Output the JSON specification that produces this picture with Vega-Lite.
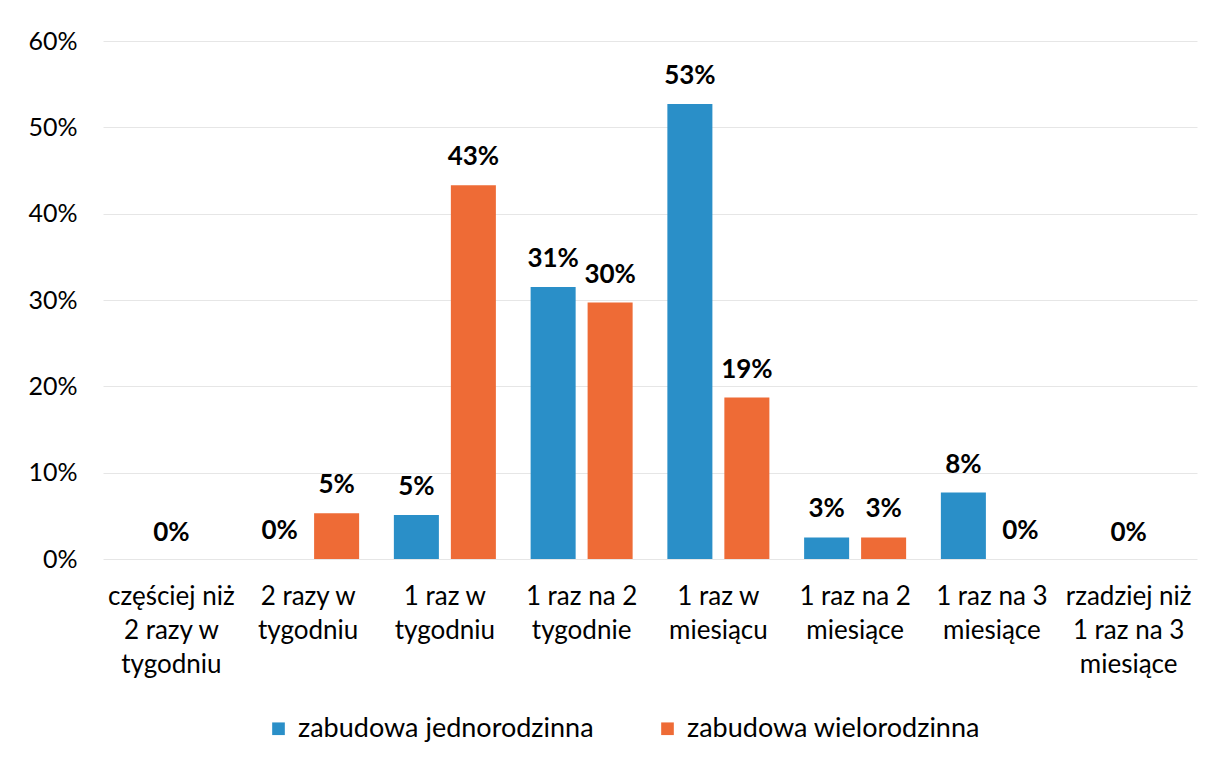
{
  "$schema": "https://vega.github.io/schema/vega-lite/v6.json",
  "width": 1094,
  "height": 518,
  "autosize": {"type": "none"},
  "padding": {"left": 103, "top": 41, "right": 11, "bottom": 201},
  "background": "white",
  "config": {
    "font": "Lato",
    "view": {"stroke": null},
    "axis": {"labelFont": "Lato", "labelColor": "#000000"}
  },
  "datasets": {
    "slupki": [
      {"kategoria": "częściej niż|2 razy w|tygodniu", "zabudowa": "zabudowa jednorodzinna", "udzial": 0.0, "etykieta": null},
      {"kategoria": "częściej niż|2 razy w|tygodniu", "zabudowa": "zabudowa wielorodzinna", "udzial": 0.0, "etykieta": null},
      {"kategoria": "2 razy w|tygodniu", "zabudowa": "zabudowa jednorodzinna", "udzial": 0.0, "etykieta": "0%"},
      {"kategoria": "2 razy w|tygodniu", "zabudowa": "zabudowa wielorodzinna", "udzial": 0.053, "etykieta": "5%"},
      {"kategoria": "1 raz w|tygodniu", "zabudowa": "zabudowa jednorodzinna", "udzial": 0.051, "etykieta": "5%"},
      {"kategoria": "1 raz w|tygodniu", "zabudowa": "zabudowa wielorodzinna", "udzial": 0.433, "etykieta": "43%"},
      {"kategoria": "1 raz na 2|tygodnie", "zabudowa": "zabudowa jednorodzinna", "udzial": 0.315, "etykieta": "31%"},
      {"kategoria": "1 raz na 2|tygodnie", "zabudowa": "zabudowa wielorodzinna", "udzial": 0.297, "etykieta": "30%"},
      {"kategoria": "1 raz w|miesiącu", "zabudowa": "zabudowa jednorodzinna", "udzial": 0.527, "etykieta": "53%"},
      {"kategoria": "1 raz w|miesiącu", "zabudowa": "zabudowa wielorodzinna", "udzial": 0.187, "etykieta": "19%"},
      {"kategoria": "1 raz na 2|miesiące", "zabudowa": "zabudowa jednorodzinna", "udzial": 0.025, "etykieta": "3%"},
      {"kategoria": "1 raz na 2|miesiące", "zabudowa": "zabudowa wielorodzinna", "udzial": 0.025, "etykieta": "3%"},
      {"kategoria": "1 raz na 3|miesiące", "zabudowa": "zabudowa jednorodzinna", "udzial": 0.077, "etykieta": "8%"},
      {"kategoria": "1 raz na 3|miesiące", "zabudowa": "zabudowa wielorodzinna", "udzial": 0.0, "etykieta": "0%"},
      {"kategoria": "rzadziej niż|1 raz na 3|miesiące", "zabudowa": "zabudowa jednorodzinna", "udzial": 0.0, "etykieta": null},
      {"kategoria": "rzadziej niż|1 raz na 3|miesiące", "zabudowa": "zabudowa wielorodzinna", "udzial": 0.0, "etykieta": null}
    ],
    "srodkowe": [
      {"kategoria": "częściej niż|2 razy w|tygodniu", "udzial": 0.0, "etykieta": "0%"},
      {"kategoria": "rzadziej niż|1 raz na 3|miesiące", "udzial": 0.0, "etykieta": "0%"}
    ]
  },
  "encoding": {
    "x": {
      "field": "kategoria", "type": "nominal", "sort": null, "title": null,
      "scale": {"paddingInner": 0.254, "paddingOuter": 0.127},
      "axis": {
        "labelExpr": "split(datum.label, '|')",
        "labelAngle": 0, "labelFontSize": 26, "labelLineHeight": 34,
        "labelBaseline": "top", "labelPadding": 24, "ticks": false, "domain": false,
        "labelLimit": 200
      }
    },
    "y": {
      "field": "udzial", "type": "quantitative", "title": null,
      "scale": {"domain": [0, 0.6], "nice": false},
      "axis": {
        "format": ".0%", "values": [0, 0.1, 0.2, 0.3, 0.4, 0.5, 0.6],
        "labelFontSize": 25, "labelPadding": 26, "ticks": false, "domain": false,
        "gridColor": "#e6e6e6", "gridWidth": 1
      }
    }
  },
  "layer": [
    {
      "data": {"name": "slupki"},
      "mark": {"type": "bar"},
      "encoding": {
        "xOffset": {"field": "zabudowa", "type": "nominal", "scale": {"paddingInner": 0.21, "paddingOuter": 0}},
        "color": {
          "field": "zabudowa", "type": "nominal", "title": null,
          "scale": {"domain": ["zabudowa jednorodzinna", "zabudowa wielorodzinna"], "range": ["#2A8FC8", "#EE6B36"]},
          "legend": {
            "orient": "none", "legendX": 162, "legendY": 674, "direction": "horizontal",
            "symbolType": "square", "symbolSize": 160, "symbolStrokeWidth": 0,
            "labelFontSize": 27, "labelColor": "#000000", "labelOffset": 6, "columnPadding": 60,
            "labelLimit": 400
          }
        }
      }
    },
    {
      "data": {"name": "slupki"},
      "transform": [{"filter": "datum.etykieta != null"}],
      "mark": {"type": "text", "fontSize": 26, "fontWeight": "bold", "color": "#000000", "baseline": "middle", "dy": -28},
      "encoding": {
        "xOffset": {"field": "zabudowa", "type": "nominal", "scale": {"paddingInner": 0.21, "paddingOuter": 0}},
        "text": {"field": "etykieta"}
      }
    },
    {
      "data": {"name": "srodkowe"},
      "mark": {"type": "text", "fontSize": 26, "fontWeight": "bold", "color": "#000000", "baseline": "middle", "dy": -26},
      "encoding": {
        "text": {"field": "etykieta"}
      }
    }
  ]
}
